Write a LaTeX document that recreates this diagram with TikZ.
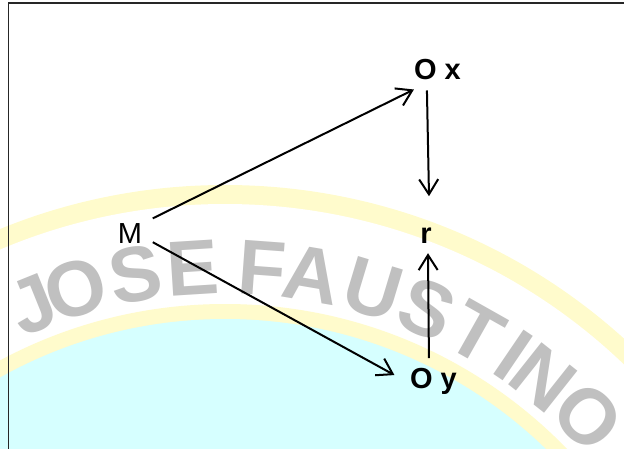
\documentclass[tikz,border=0pt]{standalone}
\usepackage{fontspec}
\setmainfont{Liberation Sans}
\usetikzlibrary{arrows.meta}
\definecolor{wmcyan}{RGB}{214,255,255}
\definecolor{wmyellow}{RGB}{255,251,204}
\definecolor{wmgray}{RGB}{192,192,192}
\begin{document}
\begin{tikzpicture}[x=1pt,y=-1pt,
  lbl/.style={inner sep=0pt,anchor=base,font=\fontsize{29}{30}\selectfont},
  blbl/.style={lbl,font=\fontsize{29}{30}\selectfont\bfseries},
  wm/.style={inner sep=0pt,anchor=base,text=wmgray,font=\fontsize{78}{78}\selectfont\bfseries},
  arr/.style={line width=2pt,-{Straight Barb[length=15pt,width=19pt]}},
  frame/.style={line width=1.5pt,draw=black!85}]
\useasboundingbox (0,0) rectangle (624,448);
\begin{scope}
  \clip (0,0) rectangle (624,448);
  \fill[wmyellow] (225,780) circle [radius=595pt];
  \fill[white] (225,780) circle [radius=576pt];
  \fill[wmyellow] (225,780) circle [radius=476pt];
  \fill[wmcyan] (225,780) circle [radius=461pt];
  \foreach \l/\a [count=\i] in {J/112,O/106.9,S/100,E/93.6,F/85.8,A/80.3,U/73.2,S/66.8,T/60.6,I/55.8,N/51.6,O/45}
    \node[wm,rotate=\a-90] (wm\i) at ({225+486*cos(\a)},{780-486*sin(\a)}) {\l};
  \draw[frame] (8.5,3) rectangle (660,480);
\end{scope}
\node[lbl]  (M)  at (130,243)   {M};
\node[blbl] (Ox) at (437.5,79)  {O x};
\node[blbl] (r)  at (426,243)   {r};
\node[blbl] (Oy) at (433.5,388) {O y};
\draw[arr] ([xshift=10.5pt,yshift=4.5pt]M.north east) -- ([yshift=-10pt]Ox.south west);
\draw[arr] ([xshift=10.5pt,yshift=1pt]M.south east) -- ([xshift=-15.5pt,yshift=-7.5pt]Oy.north west);
\draw[arr] ([xshift=13pt,yshift=-11pt]Ox.south west) -- ([xshift=3pt,yshift=31pt]r.north);
\draw[arr] ([xshift=19pt,yshift=9.5pt]Oy.north west) -- ([xshift=2pt,yshift=-10pt]r.south);
\end{tikzpicture}
\end{document}
